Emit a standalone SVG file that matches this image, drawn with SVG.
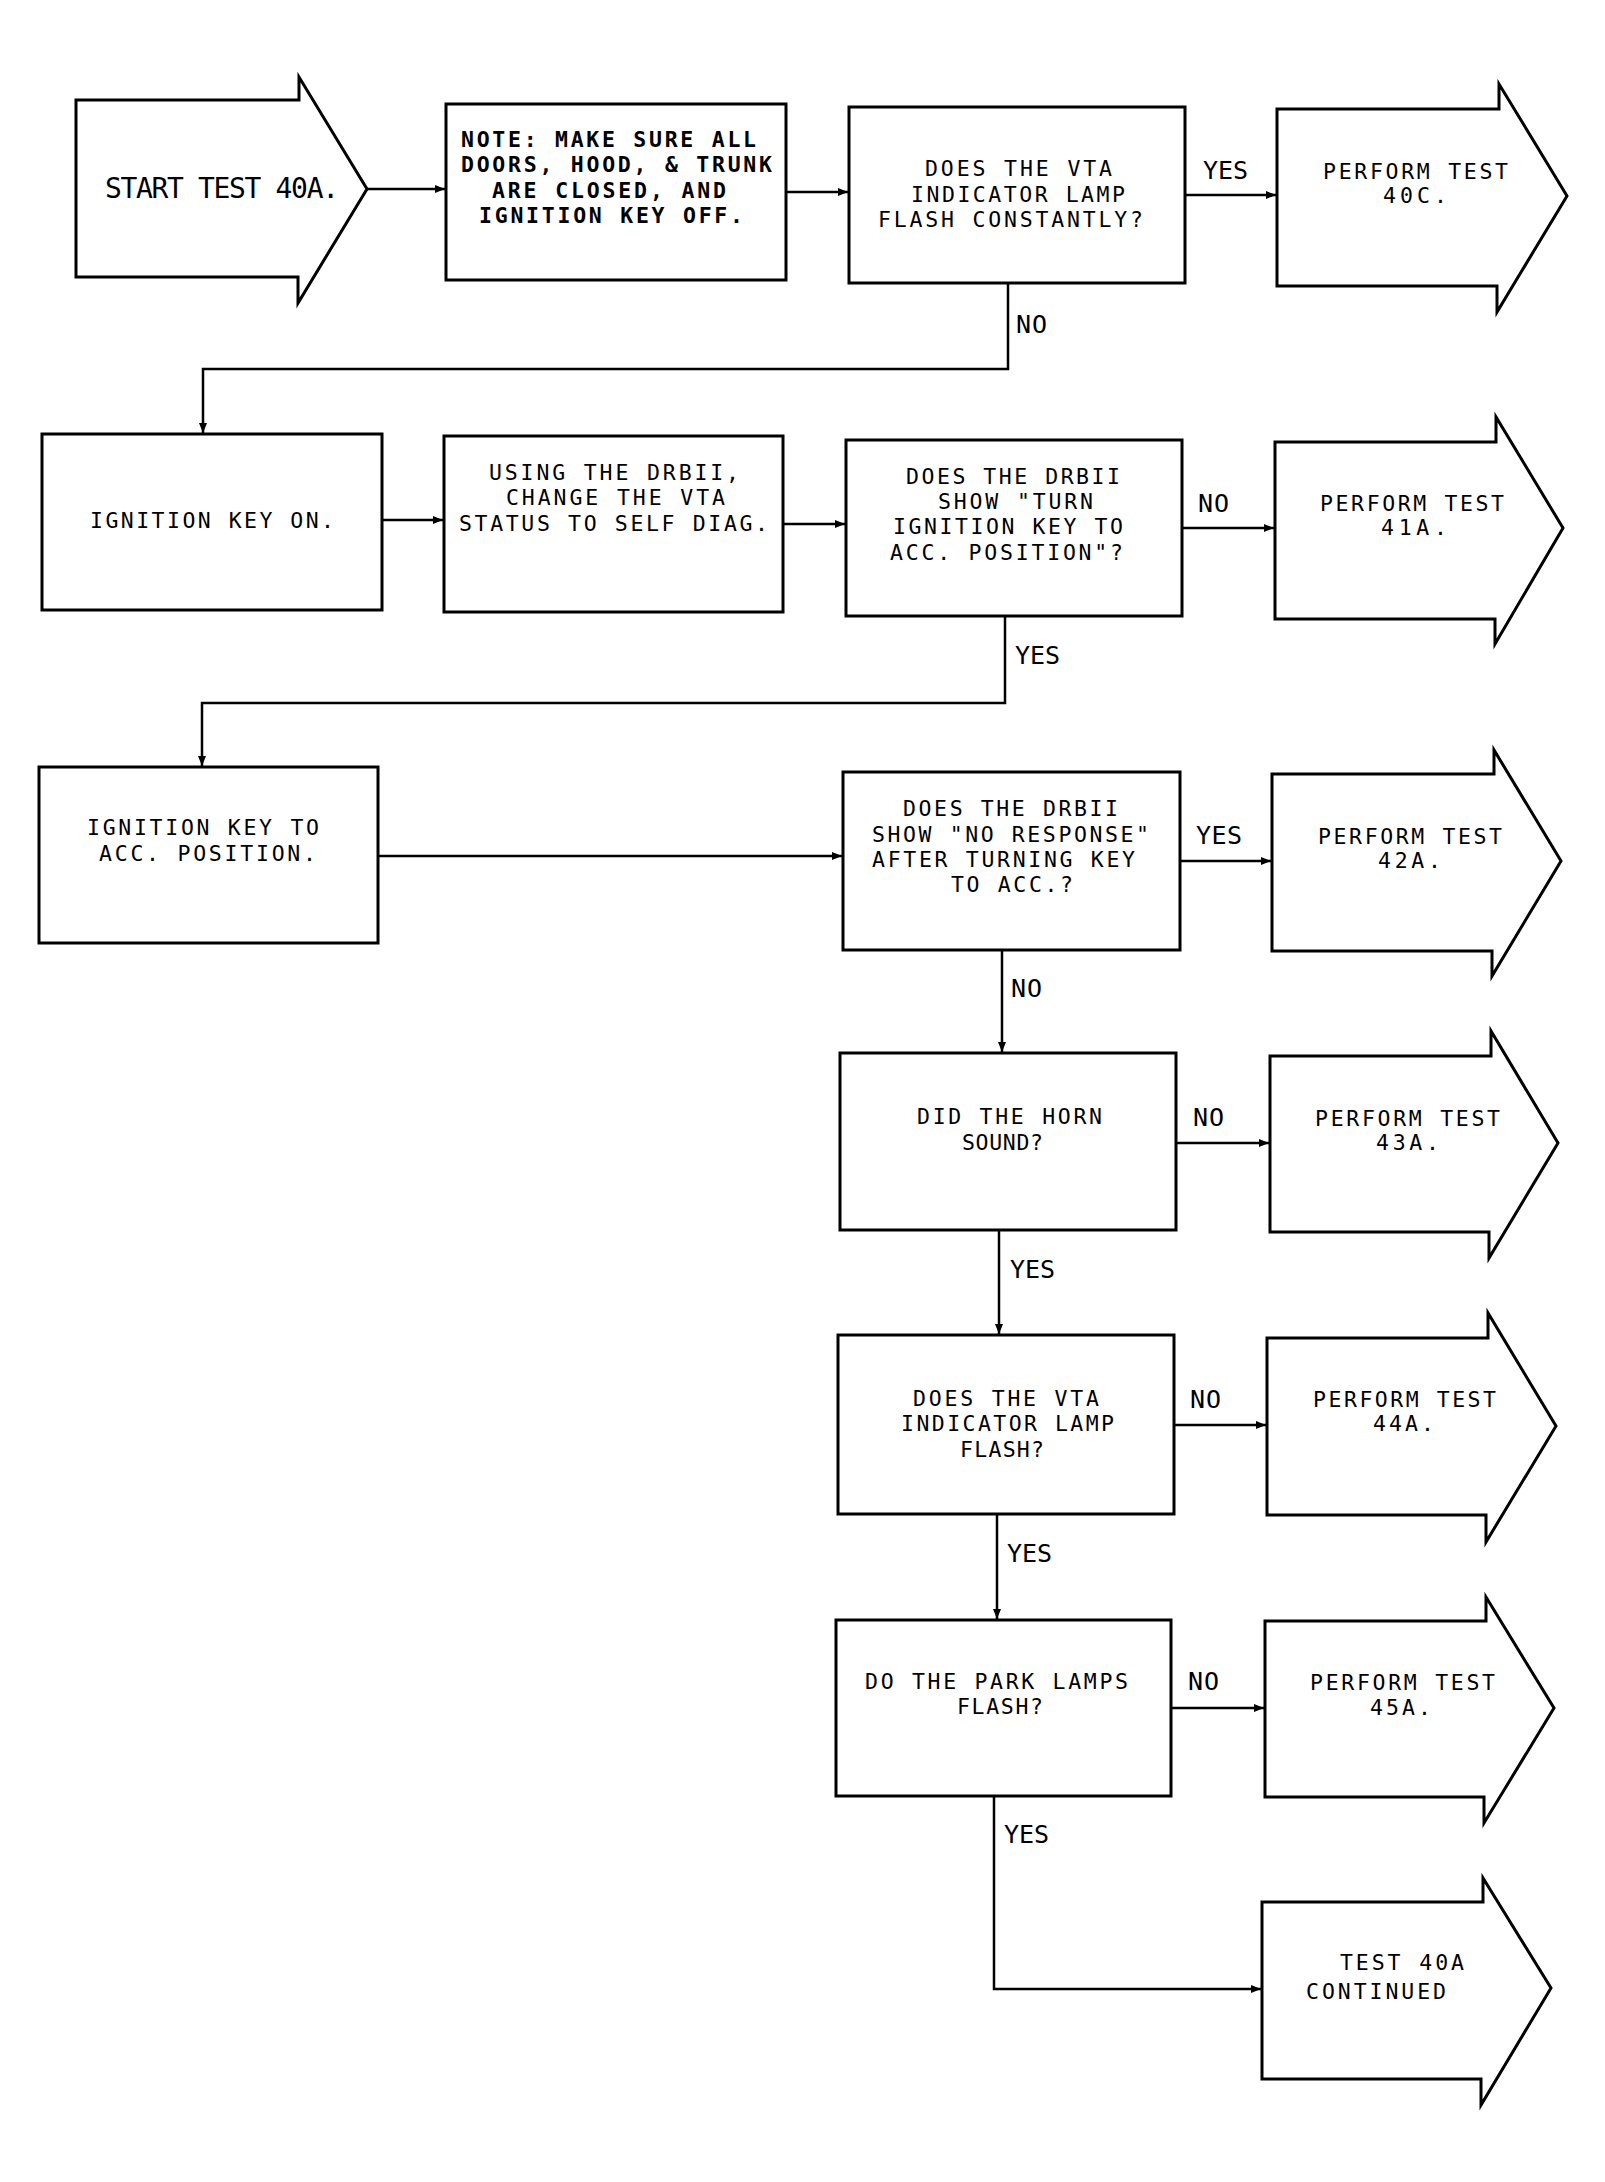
<svg xmlns="http://www.w3.org/2000/svg" width="1605" height="2182" viewBox="0 0 1605 2182">
<style>
.box{fill:#fff;stroke:#000;stroke-width:3;stroke-linejoin:miter}
.conn{fill:none;stroke:#000;stroke-width:2.5}
.arr{marker-end:url(#ah)}
text{font-family:"DejaVu Sans Mono","Liberation Mono",monospace;font-size:21.5px;fill:#000}
.big{font-size:28px}
.lbl{font-size:25px}
.bold{font-weight:bold}
</style>
<defs>
<marker id="ah" markerUnits="userSpaceOnUse" markerWidth="11" markerHeight="8" refX="10" refY="4" orient="auto">
<path d="M0,0 L10,4 L0,8 z" fill="#000"/>
</marker>
</defs>
<rect width="1605" height="2182" fill="#fff"/>

<g id="connectors">
<line class="conn arr" x1="367" y1="189" x2="445" y2="189"/>
<line class="conn arr" x1="786" y1="192" x2="848" y2="192"/>
<line class="conn arr" x1="1185" y1="195" x2="1276" y2="195"/>
<polyline class="conn arr" points="1008,283 1008,369 203,369 203,433"/>
<line class="conn arr" x1="382" y1="520" x2="443" y2="520"/>
<line class="conn arr" x1="783" y1="524" x2="845" y2="524"/>
<line class="conn arr" x1="1182" y1="528" x2="1274" y2="528"/>
<polyline class="conn arr" points="1005,616 1005,703 202,703 202,766"/>
<line class="conn arr" x1="378" y1="856" x2="842" y2="856"/>
<line class="conn arr" x1="1180" y1="861" x2="1271" y2="861"/>
<line class="conn arr" x1="1002" y1="950" x2="1002" y2="1052"/>
<line class="conn arr" x1="1176" y1="1143" x2="1269" y2="1143"/>
<line class="conn arr" x1="999" y1="1230" x2="999" y2="1334"/>
<line class="conn arr" x1="1174" y1="1425" x2="1266" y2="1425"/>
<line class="conn arr" x1="997" y1="1514" x2="997" y2="1619"/>
<line class="conn arr" x1="1171" y1="1708" x2="1264" y2="1708"/>
<polyline class="conn arr" points="994,1796 994,1989 1261,1989"/>
<text class="lbl" x="1203" y="179" textLength="45" lengthAdjust="spacing">YES</text>
<text class="lbl" x="1016" y="333" textLength="31" lengthAdjust="spacing">NO</text>
<text class="lbl" x="1198" y="512" textLength="31" lengthAdjust="spacing">NO</text>
<text class="lbl" x="1015" y="664" textLength="45" lengthAdjust="spacing">YES</text>
<text class="lbl" x="1196" y="844" textLength="46" lengthAdjust="spacing">YES</text>
<text class="lbl" x="1011" y="997" textLength="31" lengthAdjust="spacing">NO</text>
<text class="lbl" x="1193" y="1126" textLength="31" lengthAdjust="spacing">NO</text>
<text class="lbl" x="1010" y="1278" textLength="45" lengthAdjust="spacing">YES</text>
<text class="lbl" x="1190" y="1408" textLength="31" lengthAdjust="spacing">NO</text>
<text class="lbl" x="1007" y="1562" textLength="45" lengthAdjust="spacing">YES</text>
<text class="lbl" x="1188" y="1690" textLength="31" lengthAdjust="spacing">NO</text>
<text class="lbl" x="1004" y="1843" textLength="45" lengthAdjust="spacing">YES</text>
</g>

<g id="start">
<polygon class="box" points="76,100 299,100 299,77 367,189 298,303 298,277 76,277"/>
<text class="big" x="105" y="198" textLength="234" lengthAdjust="spacing">START TEST 40A.</text>
</g>

<g id="note">
<rect class="box" x="446" y="104" width="340" height="176"/>
<text class="bold" x="461" y="147" textLength="295" lengthAdjust="spacing">NOTE: MAKE SURE ALL</text>
<text class="bold" x="461" y="172" textLength="311" lengthAdjust="spacing">DOORS, HOOD, &amp; TRUNK</text>
<text class="bold" x="492" y="198" textLength="234" lengthAdjust="spacing">ARE CLOSED, AND</text>
<text class="bold" x="479" y="223" textLength="264" lengthAdjust="spacing">IGNITION KEY OFF.</text>
</g>

<g id="q-vta-constant">
<rect class="box" x="849" y="107" width="336" height="176"/>
<text x="925" y="176" textLength="187" lengthAdjust="spacing">DOES THE VTA</text>
<text x="911" y="202" textLength="214" lengthAdjust="spacing">INDICATOR LAMP</text>
<text x="878" y="227" textLength="265" lengthAdjust="spacing">FLASH CONSTANTLY?</text>
</g>

<g id="test-40c">
<polygon class="box" points="1277,109 1499,109 1499,84 1567,196 1497,312 1497,286 1277,286"/>
<text x="1323" y="179" textLength="185" lengthAdjust="spacing">PERFORM TEST</text>
<text x="1383" y="203" textLength="64" lengthAdjust="spacing">40C.</text>
</g>

<g id="ign-on">
<rect class="box" x="42" y="434" width="340" height="176"/>
<text x="90" y="528" textLength="244" lengthAdjust="spacing">IGNITION KEY ON.</text>
</g>

<g id="using-drbii">
<rect class="box" x="444" y="436" width="339" height="176"/>
<text x="489" y="480" textLength="250" lengthAdjust="spacing">USING THE DRBII,</text>
<text x="506" y="505" textLength="219" lengthAdjust="spacing">CHANGE THE VTA</text>
<text x="459" y="531" textLength="309" lengthAdjust="spacing">STATUS TO SELF DIAG.</text>
</g>

<g id="q-drbii-turn">
<rect class="box" x="846" y="440" width="336" height="176"/>
<text x="906" y="484" textLength="214" lengthAdjust="spacing">DOES THE DRBII</text>
<text x="938" y="509" textLength="155" lengthAdjust="spacing">SHOW "TURN</text>
<text x="893" y="534" textLength="230" lengthAdjust="spacing">IGNITION KEY TO</text>
<text x="890" y="560" textLength="233" lengthAdjust="spacing">ACC. POSITION"?</text>
</g>

<g id="test-41a">
<polygon class="box" points="1275,442 1496,442 1496,417 1563,528 1495,644 1495,619 1275,619"/>
<text x="1320" y="511" textLength="184" lengthAdjust="spacing">PERFORM TEST</text>
<text x="1381" y="535" textLength="66" lengthAdjust="spacing">41A.</text>
</g>

<g id="ign-acc">
<rect class="box" x="39" y="767" width="339" height="176"/>
<text x="87" y="835" textLength="232" lengthAdjust="spacing">IGNITION KEY TO</text>
<text x="99" y="861" textLength="217" lengthAdjust="spacing">ACC. POSITION.</text>
</g>

<g id="q-drbii-noresp">
<rect class="box" x="843" y="772" width="337" height="178"/>
<text x="903" y="816" textLength="215" lengthAdjust="spacing">DOES THE DRBII</text>
<text x="872" y="842" textLength="277" lengthAdjust="spacing">SHOW "NO RESPONSE"</text>
<text x="872" y="867" textLength="263" lengthAdjust="spacing">AFTER TURNING KEY</text>
<text x="951" y="892" textLength="122" lengthAdjust="spacing">TO ACC.?</text>
</g>

<g id="test-42a">
<polygon class="box" points="1272,774 1494,774 1494,750 1561,861 1492,976 1492,951 1272,951"/>
<text x="1318" y="844" textLength="184" lengthAdjust="spacing">PERFORM TEST</text>
<text x="1378" y="868" textLength="63" lengthAdjust="spacing">42A.</text>
</g>

<g id="q-horn">
<rect class="box" x="840" y="1053" width="336" height="177"/>
<text x="917" y="1124" textLength="185" lengthAdjust="spacing">DID THE HORN</text>
<text x="962" y="1150" textLength="81" lengthAdjust="spacing">SOUND?</text>
</g>

<g id="test-43a">
<polygon class="box" points="1270,1056 1491,1056 1491,1031 1558,1143 1489,1258 1489,1232 1270,1232"/>
<text x="1315" y="1126" textLength="185" lengthAdjust="spacing">PERFORM TEST</text>
<text x="1376" y="1150" textLength="63" lengthAdjust="spacing">43A.</text>
</g>

<g id="q-vta-flash">
<rect class="box" x="838" y="1335" width="336" height="179"/>
<text x="913" y="1406" textLength="186" lengthAdjust="spacing">DOES THE VTA</text>
<text x="901" y="1431" textLength="213" lengthAdjust="spacing">INDICATOR LAMP</text>
<text x="960" y="1457" textLength="84" lengthAdjust="spacing">FLASH?</text>
</g>

<g id="test-44a">
<polygon class="box" points="1267,1338 1488,1338 1488,1313 1556,1426 1486,1542 1486,1515 1267,1515"/>
<text x="1313" y="1407" textLength="183" lengthAdjust="spacing">PERFORM TEST</text>
<text x="1373" y="1431" textLength="61" lengthAdjust="spacing">44A.</text>
</g>

<g id="q-park">
<rect class="box" x="836" y="1620" width="335" height="176"/>
<text x="865" y="1689" textLength="263" lengthAdjust="spacing">DO THE PARK LAMPS</text>
<text x="957" y="1714" textLength="86" lengthAdjust="spacing">FLASH?</text>
</g>

<g id="test-45a">
<polygon class="box" points="1265,1621 1486,1621 1486,1597 1554,1708 1484,1823 1484,1797 1265,1797"/>
<text x="1310" y="1690" textLength="185" lengthAdjust="spacing">PERFORM TEST</text>
<text x="1370" y="1715" textLength="61" lengthAdjust="spacing">45A.</text>
</g>

<g id="test-40a-continued">
<polygon class="box" points="1262,1902 1483,1902 1483,1878 1551,1988 1481,2105 1481,2079 1262,2079"/>
<text x="1340" y="1970" textLength="124" lengthAdjust="spacing">TEST 40A</text>
<text x="1306" y="1999" textLength="140" lengthAdjust="spacing">CONTINUED</text>
</g>
</svg>
